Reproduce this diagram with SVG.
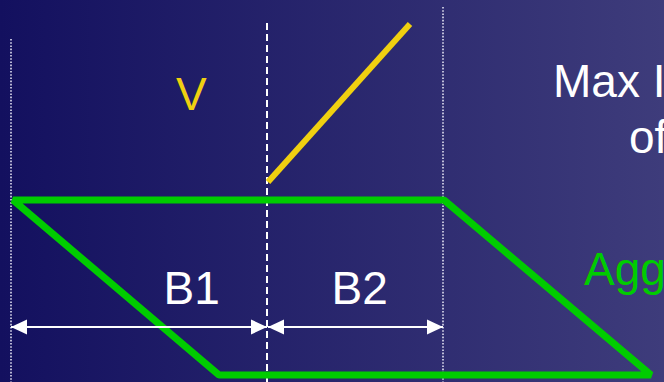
<svg xmlns="http://www.w3.org/2000/svg" width="664" height="382" viewBox="0 0 664 382">
<defs>
<linearGradient id="bg" x1="0" y1="0" x2="1" y2="0">
<stop offset="0" stop-color="#13105f"/>
<stop offset="1" stop-color="#3e3c7b"/>
</linearGradient>
<marker id="ah" markerUnits="userSpaceOnUse" markerWidth="16" markerHeight="16" viewBox="0 0 16 16" refX="16" refY="8" orient="auto-start-reverse">
<path d="M0,0.5 L16,8 L0,15.5 Z" fill="#ffffff"/>
</marker>
<style>
.t{font-family:"Liberation Sans",Arial,sans-serif;font-size:46px}
.dot{stroke:#e0e0f0;stroke-width:1.6;stroke-dasharray:1.6 1.6;fill:none}
.dash{stroke:#ffffff;stroke-width:2;stroke-dasharray:7 4;fill:none}
.dim{stroke:#ffffff;stroke-width:2;fill:none;marker-start:url(#ah);marker-end:url(#ah)}
</style>
</defs>
<rect width="664" height="382" fill="url(#bg)"/>
<g id="guides">
<line class="dot" x1="11" y1="39" x2="11" y2="382"/>
<line class="dot" x1="443" y1="7" x2="443" y2="382"/>
<line class="dash" x1="267" y1="23" x2="267" y2="382"/>
</g>
<g id="aggregate">
<polygon points="13,200 444,200 651,375 219,375" fill="none" stroke="#00cc00" stroke-width="7" stroke-linejoin="bevel"/>
</g>
<g id="velocity">
<line x1="268" y1="182" x2="410" y2="24" stroke="#f0d010" stroke-width="6"/>
</g>
<g id="connectors">
<line class="dim" x1="11" y1="327" x2="267" y2="327"/>
<line class="dim" x1="268" y1="327" x2="443" y2="327"/>
</g>
<g id="labels">
<text class="t" x="176" y="110" fill="#f0d010">V</text>
<text class="t" x="163.5" y="304" fill="#ffffff">B1</text>
<text class="t" x="331.5" y="304" fill="#ffffff">B2</text>
<text class="t" x="553" y="97" fill="#ffffff">Max I</text>
<text class="t" x="629" y="153" fill="#ffffff">of</text>
<text class="t" x="584" y="285" fill="#00cc00">Agg</text>
</g>
</svg>
